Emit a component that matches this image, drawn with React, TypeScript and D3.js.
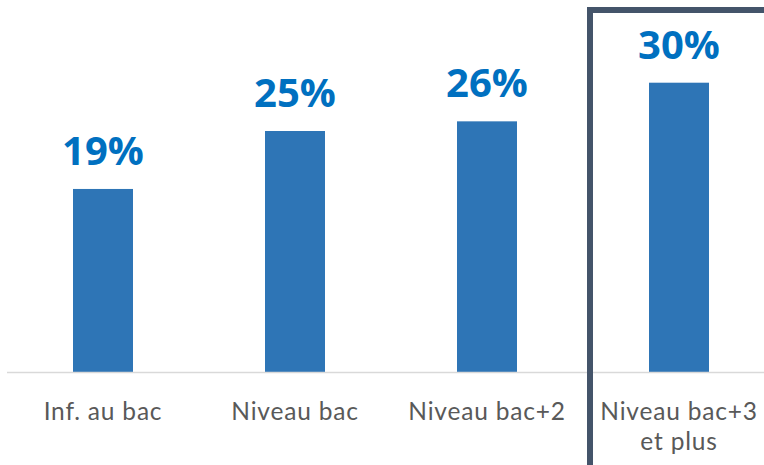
import React from "react";
import * as d3 from "d3";

const categories: string[][] = [
  ["Inf. au bac"],
  ["Niveau bac"],
  ["Niveau bac+2"],
  ["Niveau bac+3", "et plus"],
];
const values: number[] = [19, 25, 26, 30];
const valueLabels: string[] = ["19%", "25%", "26%", "30%"];
const highlightIndex = 3;

const W = 764;
const H = 465;

export default function App() {
  const keys = categories.map((_, i) => String(i));
  const x = d3
    .scaleBand<string>()
    .domain(keys)
    .range([7, 775])
    .paddingInner(0.6875)
    .paddingOuter(0.34375);
  const baseline = 372.5;
  const y = d3.scaleLinear().domain([0, 30]).range([baseline, 82.7]);
  const bw = x.bandwidth();
  const hx = x(String(highlightIndex))! + bw / 2;

  return (
    <svg
      width={W}
      height={H}
      style={{ position: "fixed", left: 0, top: 0, background: "#fff" }}
      fontFamily="'Open Sans', sans-serif"
    >
      <rect x={0} y={0} width={W} height={H} fill="#fff" />
      {values.map((v, i) => (
        <rect
          key={"b" + i}
          x={x(String(i))!}
          y={y(v)}
          width={bw}
          height={baseline - y(v)}
          fill="#2e75b6"
        />
      ))}
      <line x1={7} x2={W} y1={baseline} y2={baseline} stroke="#d9d9d9" strokeWidth={1.5} />
      {values.map((v, i) => (
        <text
          key={"v" + i}
          x={x(String(i))! + bw / 2}
          y={y(v) - 24}
          textAnchor="middle"
          fontSize={40}
          fontWeight="bold"
          fill="#0070c0"
        >
          {valueLabels[i]}
        </text>
      ))}
      {categories.map((lines, i) =>
        lines.map((l, j) => (
          <text
            key={"c" + i + "-" + j}
            x={x(String(i))! + bw / 2}
            y={420 + j * 30}
            textAnchor="middle"
            fontSize={24.5}
            fontFamily="Lato, sans-serif"
            letterSpacing={0.8}
            fill="#595959"
          >
            {l}
          </text>
        ))
      )}
      <rect
        x={hx - 89}
        y={10}
        width={200}
        height={480}
        fill="none"
        stroke="#44546a"
        strokeWidth={6}
      />
    </svg>
  );
}
